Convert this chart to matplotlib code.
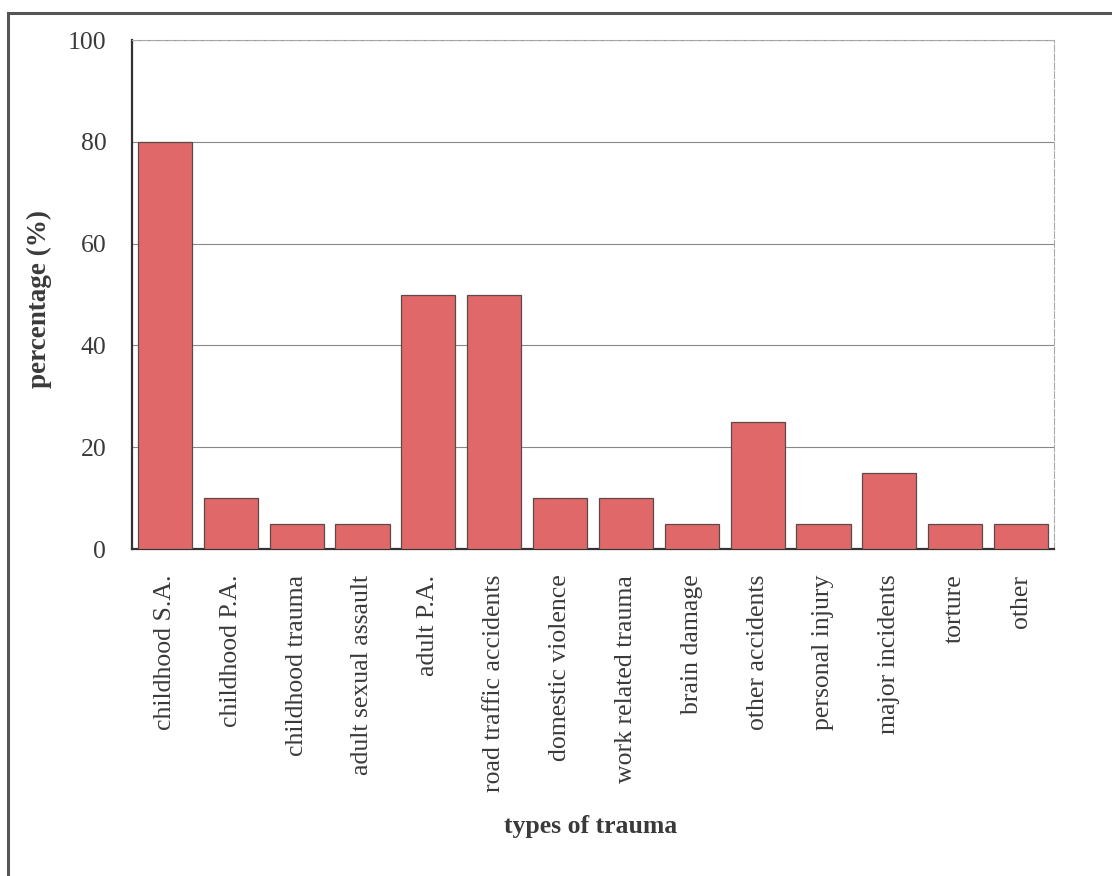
import matplotlib
matplotlib.use("Agg")
import matplotlib.pyplot as plt
from matplotlib.patches import Rectangle

categories = ["childhood S.A.", "childhood P.A.", "childhood trauma", "adult sexual assault",
              "adult P.A.", "road traffic accidents", "domestic violence", "work related trauma",
              "brain damage", "other accidents", "personal injury", "major incidents",
              "torture", "other"]
values = [80, 10, 5, 5, 50, 50, 10, 10, 5, 25, 5, 15, 5, 5]
yticks = [0, 20, 40, 60, 80, 100]

plt.rcParams['font.family'] = ['Liberation Serif', 'DejaVu Serif']

fig = plt.figure(figsize=(11.12, 8.76), dpi=100)
# outer border (extends beyond right/bottom edges)
fig.patches.append(Rectangle((8/1112, -0.05), 1.2, (876-13)/876 + 0.05, transform=fig.transFigure,
                             fill=False, edgecolor='#555555', linewidth=2.2))

ax = fig.add_axes([132/1112, 327/876, 922/1112, 509/876])
x = list(range(len(categories)))
ax.bar(x, values, width=0.82, color='#E06868', edgecolor='#5a4a4a', linewidth=0.9, zorder=3)
ax.set_xlim(-0.5, len(categories) - 0.5)
ax.set_ylim(0, 100)
ax.set_yticks(yticks)
ax.set_yticklabels([str(v) for v in yticks], fontsize=18.5, color='#3a3a3a')
ax.set_xticks(x)
ax.set_xticklabels(categories, rotation=90, fontsize=18.5, color='#3a3a3a')
ax.tick_params(axis='x', length=0, pad=18.5)
ax.tick_params(axis='y', length=0, pad=18.5)
ax.yaxis.grid(True, color='#888888', linewidth=0.8, zorder=0)
ax.set_axisbelow(True)
for s in ['top', 'right']:
    ax.spines[s].set_color('#aaaaaa')
    ax.spines[s].set_linewidth(0.8)
    ax.spines[s].set_linestyle((0, (6, 2)))
for s in ['left', 'bottom']:
    ax.spines[s].set_color('#333333')
    ax.spines[s].set_linewidth(1.6)

fig.text(39/1112, 1 - 299/876, "percentage (%)", rotation=90, ha='center', va='center',
         fontsize=19.5, fontweight='bold', color='#3a3a3a')
fig.text(591/1112, 1 - 827/876, "types of trauma", ha='center', va='center',
         fontsize=18.5, fontweight='bold', color='#3a3a3a')

fig.savefig("out.png", dpi=100)
